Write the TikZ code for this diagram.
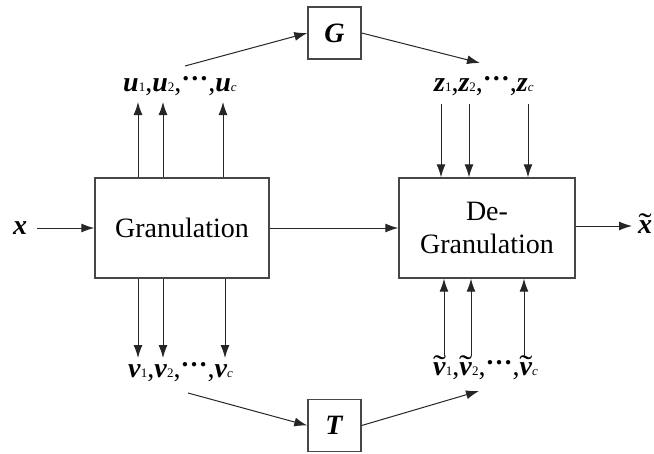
\documentclass[tikz,border=0pt]{standalone}
\usepackage{fontspec}
\usepackage{graphicx}
\setmainfont{Liberation Serif}
\usetikzlibrary{arrows.meta}

% bold italic variable, small index, raised dots, wide tilde
\newcommand{\bvar}[1]{\textbf{\textit{#1}}}
\newcommand{\subidx}[1]{{\fontsize{13}{13}\selectfont #1}}
\newcommand{\subidxit}[1]{{\fontsize{13}{13}\selectfont\itshape #1}}
\newcommand{\rowdots}{\raisebox{0.36em}{\fontsize{27}{27}\selectfont\textbf{…}}}
\newcommand{\tvar}[1]{\leavevmode\setbox0\hbox{\bvar{#1}}%
  \rlap{\hbox to \wd0{\hss\raisebox{-0.06em}{\scalebox{1.4}[1.1]{\symbol{"02DC}}}\hss}}\box0}

\begin{document}
\begin{tikzpicture}[x=1pt,y=-1pt,
  bigtext/.style={font=\fontsize{28}{33}\selectfont},
  box/.style={draw=black!72, line width=1.4pt, inner sep=0pt, bigtext, align=center},
  link/.style={-{Latex[length=13pt,width=9pt]}, line width=1pt, draw=black!85},
  lbl/.style={bigtext, inner sep=0pt, anchor=base west}]

\useasboundingbox[fill=white] (0,0) rectangle (654,453);

% main blocks
\node[box, minimum width=174pt, minimum height=100pt] (gran) at (182,228) {Granulation};
\node[box, minimum width=176pt, minimum height=100pt] (degran) at (487,228) {De-\\Granulation};
\node[box, minimum width=53pt, minimum height=52pt] (G) at (334.5,33) {\bvar{G}};
\node[box, minimum width=53pt, minimum height=52pt] (T) at (334.5,425.5) {\bvar{T}};

% input and output
\node[bigtext, inner ysep=0pt, inner xsep=10pt] (xin) at (20,228) {\bvar{x}};
\node[bigtext, inner ysep=0pt, inner xsep=6pt, anchor=base west] (xout) at (632,233) {\tvar{x}};
\draw[link] (xin) -- (gran);
\draw[link] (gran) -- (degran);
\draw[link] (degran.east |- 0,226) -- (xout.west |- 0,226);

% variable rows
\node[lbl] (ulab) at (123,91) {\bvar{u}\subidx{1},\bvar{u}\subidx{2},\rowdots,\bvar{u}\subidxit{c}};
\node[lbl] (zlab) at (434,91) {\bvar{z}\subidx{1},\bvar{z}\subidx{2},\rowdots,\bvar{z}\subidxit{c}};
\node[lbl] (vlab) at (128,377) {\bvar{v}\subidx{1},\bvar{v}\subidx{2},\rowdots,\bvar{v}\subidxit{c}};
\node[lbl] (wlab) at (433,375) {\tvar{v}\subidx{1},\tvar{v}\subidx{2},\rowdots,\tvar{v}\subidxit{c}};

% arrow ends near the rows
\coordinate (u1) at (138,102);
\coordinate (u2) at (163,102);
\coordinate (uc) at (223,102);
\coordinate (z1) at (441,104);
\coordinate (z2) at (469,104);
\coordinate (zc) at (528,104);
\coordinate (v1) at (138,358);
\coordinate (v2) at (163,358);
\coordinate (vc) at (225,358);
\coordinate (w1) at (444,356);
\coordinate (w2) at (471,356);
\coordinate (wc) at (524,356);

\foreach \c in {u1,u2,uc} \draw[link] (gran.north -| \c) -- (\c);
\foreach \c in {z1,z2,zc} \draw[link] (\c) -- (degran.north -| \c);
\foreach \c in {v1,v2,vc} \draw[link] (gran.south -| \c) -- (\c);
\foreach \c in {w1,w2,wc} \draw[link] (\c) -- (degran.south -| \c);

% mapping through G and T
\coordinate (uG) at (185,66);
\coordinate (Gz) at (480,63);
\coordinate (vT) at (188,393);
\coordinate (Tw) at (479,391);
\draw[link] (uG) -- (G.west);
\draw[link] (G.east) -- (Gz);
\draw[link] (vT) -- (T.west);
\draw[link] (T.east) -- (Tw);
\end{tikzpicture}
\end{document}
